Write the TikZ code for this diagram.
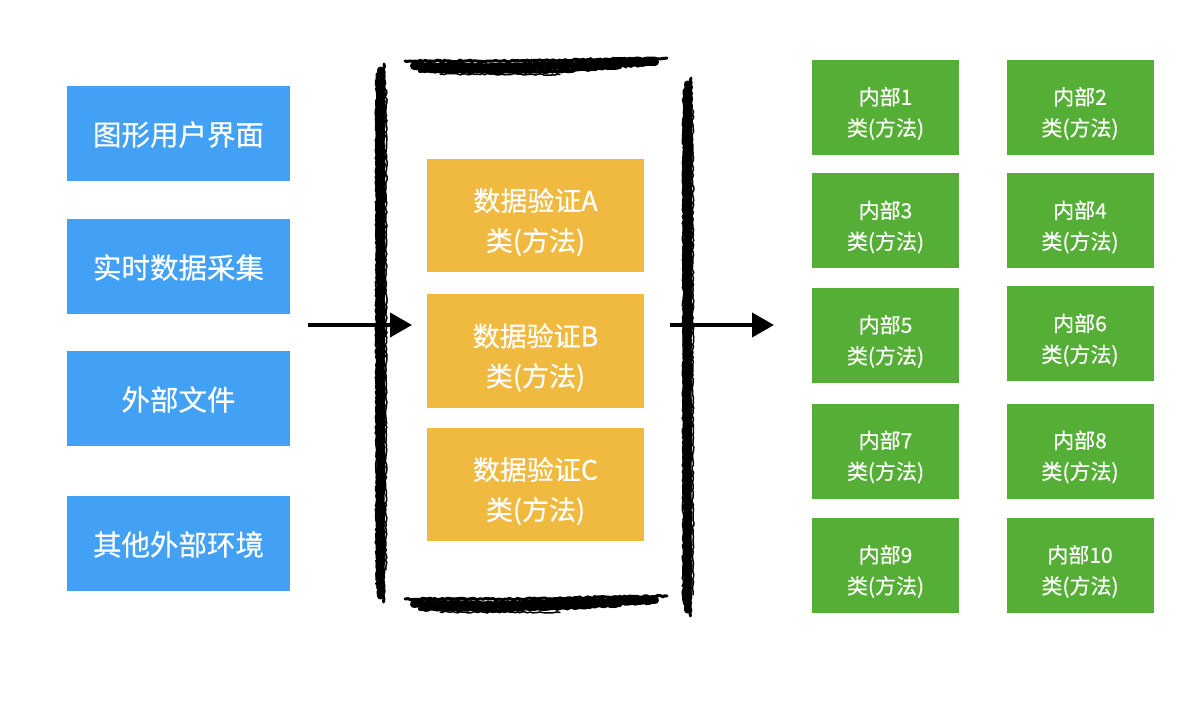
\documentclass[tikz,border=0pt]{standalone}
\usepackage{fontspec}
\setmainfont{Noto Sans CJK SC}
\newfontfamily\boxfont{Noto Sans CJK SC}[FakeBold=0.4]
\usetikzlibrary{decorations.pathmorphing,arrows.meta}
\definecolor{cblue}{HTML}{42A1F5}
\definecolor{cyellow}{HTML}{F0BA40}
\definecolor{cgreen}{HTML}{55AE35}
\tikzset{
  bluebox/.style={fill=cblue, minimum width=223pt, minimum height=95pt, inner sep=0pt},
  bluetext/.style={text=white, inner sep=0pt, yshift=-1pt, font=\boxfont\fontsize{28.5}{34}\selectfont},
  yellowbox/.style={fill=cyellow, minimum width=217pt, minimum height=113pt, inner sep=0pt},
  yellowtext/.style={text=white, inner sep=0pt, align=center, yshift=-6.5pt, font=\boxfont\fontsize{27}{40}\selectfont},
  greenbox/.style={fill=cgreen, minimum width=147pt, minimum height=95pt, inner sep=0pt},
  greentext/.style={text=white, inner sep=0pt, align=center, yshift=-6pt, font=\boxfont\fontsize{21}{31}\selectfont},
  brush/.style={draw=black, line cap=round, decorate, decoration={random steps, segment length=2.5pt, amplitude=0.8pt}},
  flow/.style={line width=4pt, -{Triangle[length=22pt,width=24pt]}}
}
\begin{document}
\begin{tikzpicture}[x=1pt,y=-1pt]
\pgfmathsetseed{7}
\useasboundingbox (0,0) rectangle (1200,711);
% blue input boxes
\node[bluebox, label={[bluetext]center:图形用户界面}] (gui) at (178.5,133.5) {};
\node[bluebox, label={[bluetext]center:实时数据采集}] (rt)  at (178.5,266.5) {};
\node[bluebox, label={[bluetext]center:外部文件}] (ext) at (178.5,398.5) {};
\node[bluebox, label={[bluetext]center:其他外部环境}] (oth) at (178.5,543.5) {};
% yellow validation boxes
\node[yellowbox, label={[yellowtext]center:数据验证A\\类(方法)}] (va) at (535.5,215.5) {};
\node[yellowbox, label={[yellowtext]center:数据验证B\\类(方法)}] (vb) at (535.5,351) {};
\node[yellowbox, label={[yellowtext]center:数据验证C\\类(方法)}] (vc) at (535.5,484.5) {};
% green internal boxes
\node[greenbox, label={[greentext]center:内部1\\类(方法)}]  (i1)  at (885.5,107.5) {};
\node[greenbox, label={[greentext]center:内部2\\类(方法)}]  (i2)  at (1080,107.5) {};
\node[greenbox, label={[greentext]center:内部3\\类(方法)}]  (i3)  at (885.5,221) {};
\node[greenbox, label={[greentext]center:内部4\\类(方法)}]  (i4)  at (1080,221) {};
\node[greenbox, label={[greentext]center:内部5\\类(方法)}]  (i5)  at (885.5,335.5) {};
\node[greenbox, label={[greentext]center:内部6\\类(方法)}]  (i6)  at (1080,334) {};
\node[greenbox, label={[greentext]center:内部7\\类(方法)}]  (i7)  at (885.5,451) {};
\node[greenbox, label={[greentext]center:内部8\\类(方法)}]  (i8)  at (1080,451) {};
\node[greenbox, label={[greentext]center:内部9\\类(方法)}]  (i9)  at (885.5,565.5) {};
\node[greenbox, label={[greentext]center:内部10\\类(方法)}] (i10) at (1080,565.5) {};
% brush frame - left vertical
\draw[brush, line width=7pt] (380.5,70) -- (380.5,596);
\draw[brush, line width=3pt] (377,74) -- (377.5,588);
\draw[brush, line width=3pt] (384,64) -- (383.5,602);
\draw[brush, line width=1.5pt] (386.5,90) -- (386,570);
\draw[brush, line width=1.5pt] (376,100) -- (376,580);
% right vertical
\draw[brush, line width=7pt] (687.5,84) -- (687.5,610);
\draw[brush, line width=3pt] (684,90) -- (684.5,604);
\draw[brush, line width=3pt] (691,78) -- (690.5,616);
\draw[brush, line width=1.5pt] (693,110) -- (693,595);
\draw[brush, line width=1.5pt] (683,120) -- (683,600);
% top horizontal
\draw[brush, line width=8pt] (414,66) -- (500,67) -- (600,64) -- (655,62);
\draw[brush, line width=3pt] (405,61) -- (520,61) -- (667,58);
\draw[brush, line width=4pt] (420,71) -- (500,72) -- (560,71) -- (620,67);
\draw[brush, line width=1.5pt] (440,74) -- (560,74.5);
% bottom horizontal
\draw[brush, line width=8pt] (414,604) -- (500,605) -- (600,602) -- (655,600);
\draw[brush, line width=3pt] (405,599) -- (520,599) -- (667,596);
\draw[brush, line width=4pt] (420,609) -- (500,610) -- (560,608) -- (620,605);
\draw[brush, line width=1.5pt] (440,612) -- (560,612.5);
% arrows
\coordinate (a1s) at (308,325);
\coordinate (a1e) at (412,325);
\coordinate (a2s) at (670,325);
\coordinate (a2e) at (774,325);
\draw[flow] (a1s) -- (a1e);
\draw[flow] (a2s) -- (a2e);
\end{tikzpicture}
\end{document}
